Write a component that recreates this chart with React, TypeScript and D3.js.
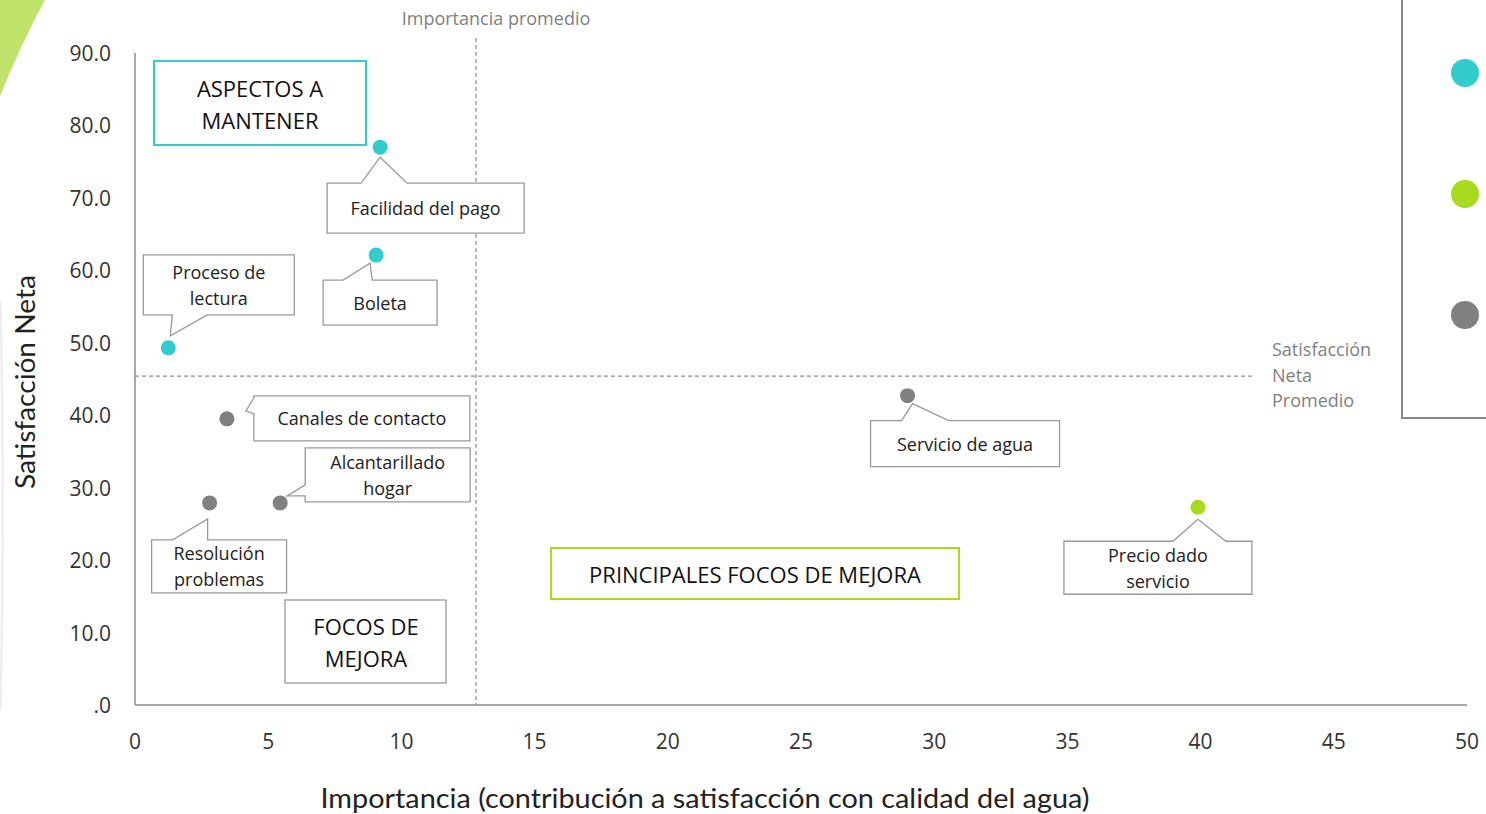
import * as d3 from "d3";

// Importancia (x) y Satisfacción Neta (y) de cada atributo
const labels = [
  "Facilidad del pago",
  "Boleta",
  "Proceso de lectura",
  "Canales de contacto",
  "Alcantarillado hogar",
  "Resolución problemas",
  "Servicio de agua",
  "Precio dado servicio",
];
const importancia = [9.2, 9.05, 1.25, 3.45, 5.45, 2.8, 29.0, 39.9];
const satisfaccion = [77.0, 62.1, 49.3, 39.5, 27.9, 27.9, 42.7, 27.3];
const grupos = ["mantener", "mantener", "mantener", "focos", "focos", "focos", "focos", "principal"];

const xTicks = [0, 5, 10, 15, 20, 25, 30, 35, 40, 45, 50];
const yTicks = [0, 10, 20, 30, 40, 50, 60, 70, 80, 90];
const importanciaPromedio = 12.8;
const satisfaccionPromedio = 45.4;

// callout lines (label text split)
const labelLines = [
  ["Facilidad del pago"],
  ["Boleta"],
  ["Proceso de", "lectura"],
  ["Canales de contacto"],
  ["Alcantarillado", "hogar"],
  ["Resolución", "problemas"],
  ["Servicio de agua"],
  ["Precio dado", "servicio"],
];

// callout box placement relative to the point (layout only)
const calloutLayout = [
  { dx: -53, dy: 36, w: 197, h: 50, side: "top", a: -19, b: 27, tx: 0, ty: 10 },
  { dx: -53, dy: 25, w: 114, h: 45, side: "top", a: -33, b: -4, tx: -6, ty: 8 },
  { dx: -25, dy: -93, w: 151, h: 60, side: "bottom", a: 4, b: 39, tx: 2, ty: -12 },
  { dx: 27, dy: -23, w: 216, h: 45, side: "left", a: -21, b: -5, tx: 19, ty: -8 },
  { dx: 25, dy: -55, w: 165, h: 54, side: "left", a: -18, b: -7, tx: 7, ty: -7 },
  { dx: -58, dy: 37, w: 135, h: 53, side: "top", a: -37, b: -2, tx: -2, ty: 16 },
  { dx: -37, dy: 25, w: 189, h: 46, side: "top", a: -6, b: 41, tx: 5, ty: 8 },
  { dx: -134, dy: 34, w: 188, h: 53, side: "top", a: -25, b: 28, tx: 0, ty: 12 },
];

const colors: Record<string, string> = {
  mantener: "#33CCCC",
  principal: "#A8DB1E",
  focos: "#808080",
};

const W = 1486;
const H = 814;
const TITLEFONT = "Lato, 'Open Sans', sans-serif";
const TICKFONT = "'Open Sans', sans-serif";

function calloutPath(px: number, py: number, c: any) {
  const x = px + c.dx;
  const y = py + c.dy;
  const r = x + c.w;
  const btm = y + c.h;
  const tx = px + c.tx;
  const ty = py + c.ty;
  if (c.side === "top") {
    const a = px + c.a, b = px + c.b;
    return `M${x},${y}L${a},${y}L${tx},${ty}L${b},${y}L${r},${y}L${r},${btm}L${x},${btm}Z`;
  }
  if (c.side === "bottom") {
    const a = px + c.a, b = px + c.b;
    return `M${x},${y}L${r},${y}L${r},${btm}L${b},${btm}L${tx},${ty}L${a},${btm}L${x},${btm}Z`;
  }
  const a = py + c.a, b = py + c.b;
  return `M${x},${y}L${r},${y}L${r},${btm}L${x},${btm}L${x},${b}L${tx},${ty}L${x},${a}Z`;
}

export default function App() {
  const x = d3.scaleLinear().domain([0, 50]).range([135, 1467]);
  const y = d3.scaleLinear().domain([0, 90]).range([705, 53]);

  const yFmt = (v: number) => (v === 0 ? ".0" : d3.format(".1f")(v));

  return (
    <svg
      width={W}
      height={H}
      style={{ position: "absolute", left: 0, top: 0, background: "#fff" }}
    >
      {/* decoración de la esquina */}
      <path d="M0,0L45,0Q22,42 0,96Z" fill="#BFE36B" />
      <path d="M0.5,300Q5,500 0.5,710" fill="none" stroke="#eceef1" strokeWidth={2.5} />

      {/* ejes */}
      <line x1={135} x2={135} y1={53} y2={705} stroke="#8c8c8c" strokeWidth={1.5} />
      <line x1={135} x2={1467} y1={705} y2={705} stroke="#8c8c8c" strokeWidth={1.5} />

      {yTicks.map((t) => (
        <text
          key={"y" + t}
          x={111}
          y={y(t)}
          textAnchor="end"
          dominantBaseline="central"
          fontFamily={TICKFONT}
          fontSize={21}
          fill="#333"
        >
          {yFmt(t)}
        </text>
      ))}
      {xTicks.map((t) => (
        <text
          key={"x" + t}
          x={x(t)}
          y={741}
          textAnchor="middle"
          dominantBaseline="central"
          fontFamily={TICKFONT}
          fontSize={21}
          fill="#333"
        >
          {t}
        </text>
      ))}

      {/* títulos de ejes */}
      <text
        transform="translate(25,382) rotate(-90)"
        textAnchor="middle"
        dominantBaseline="central"
        fontFamily={TITLEFONT}
        fontSize={26}
        fill="#222"
        textLength={214}
        lengthAdjust="spacingAndGlyphs"
      >
        Satisfacción Neta
      </text>
      <text
        x={705}
        y={797}
        textAnchor="middle"
        dominantBaseline="central"
        fontFamily={TITLEFONT}
        fontSize={27}
        fill="#222"
        textLength={769}
        lengthAdjust="spacingAndGlyphs"
      >
        Importancia (contribución a satisfacción con calidad del agua)
      </text>

      {/* líneas promedio */}
      <line
        x1={x(importanciaPromedio)}
        x2={x(importanciaPromedio)}
        y1={38}
        y2={705}
        stroke="#8c8c8c"
        strokeWidth={1.2}
        strokeDasharray="4,3"
      />
      <line
        x1={135}
        x2={1252}
        y1={y(satisfaccionPromedio)}
        y2={y(satisfaccionPromedio)}
        stroke="#8c8c8c"
        strokeWidth={1.2}
        strokeDasharray="4,3"
      />
      <text
        x={496}
        y={18}
        textAnchor="middle"
        dominantBaseline="central"
        fontFamily={TICKFONT}
        fontSize={18}
        fill="#7f7f7f"
      >
        Importancia promedio
      </text>
      {["Satisfacción", "Neta", "Promedio"].map((s, i) => (
        <text
          key={s}
          x={1272}
          y={349 + i * 25.5}
          dominantBaseline="central"
          fontFamily={TICKFONT}
          fontSize={18}
          fill="#7f7f7f"
        >
          {s}
        </text>
      ))}

      {/* cuadros de cuadrante */}
      <rect x={154} y={61} width={212} height={84} fill="#fff" stroke="#33CCCC" strokeWidth={2} />
      {["ASPECTOS A", "MANTENER"].map((s, i) => (
        <text key={s} x={260} y={88 + i * 32} textAnchor="middle" dominantBaseline="central"
          fontFamily={TICKFONT} fontSize={22} fill="#111">{s}</text>
      ))}
      <rect x={285} y={600} width={161} height={83} fill="#fff" stroke="#999" strokeWidth={1.3} />
      {["FOCOS DE", "MEJORA"].map((s, i) => (
        <text key={s} x={366} y={626 + i * 32} textAnchor="middle" dominantBaseline="central"
          fontFamily={TICKFONT} fontSize={22} fill="#111">{s}</text>
      ))}
      <rect x={551} y={548} width={408} height={51} fill="#fff" stroke="#A8DB1E" strokeWidth={2} />
      <text x={755} y={574} textAnchor="middle" dominantBaseline="central"
        fontFamily={TICKFONT} fontSize={22} fill="#111">PRINCIPALES FOCOS DE MEJORA</text>

      {/* callouts */}
      {labels.map((lab, i) => {
        const px = x(importancia[i]);
        const py = y(satisfaccion[i]);
        const c = calloutLayout[i];
        const lines = labelLines[i];
        const cx = px + c.dx + c.w / 2;
        const cy = py + c.dy + c.h / 2;
        return (
          <g key={lab}>
            <path d={calloutPath(px, py, c)} fill="#fff" stroke="#999" strokeWidth={1.3} />
            {lines.map((s, j) => (
              <text
                key={s}
                x={cx}
                y={cy + (j - (lines.length - 1) / 2) * 26}
                textAnchor="middle"
                dominantBaseline="central"
                fontFamily={TICKFONT}
                fontSize={18}
                fill="#222"
              >
                {s}
              </text>
            ))}
          </g>
        );
      })}

      {/* puntos */}
      {labels.map((lab, i) => (
        <circle
          key={"p" + lab}
          cx={x(importancia[i])}
          cy={y(satisfaccion[i])}
          r={7.5}
          fill={colors[grupos[i]]}
        />
      ))}

      {/* leyenda */}
      <path d="M1402,0L1402,418L1486,418" fill="none" stroke="#888" strokeWidth={2} />
      {["mantener", "principal", "focos"].map((g, i) => (
        <circle key={g} cx={1465} cy={73 + i * 121} r={14} fill={colors[g]} />
      ))}
    </svg>
  );
}
